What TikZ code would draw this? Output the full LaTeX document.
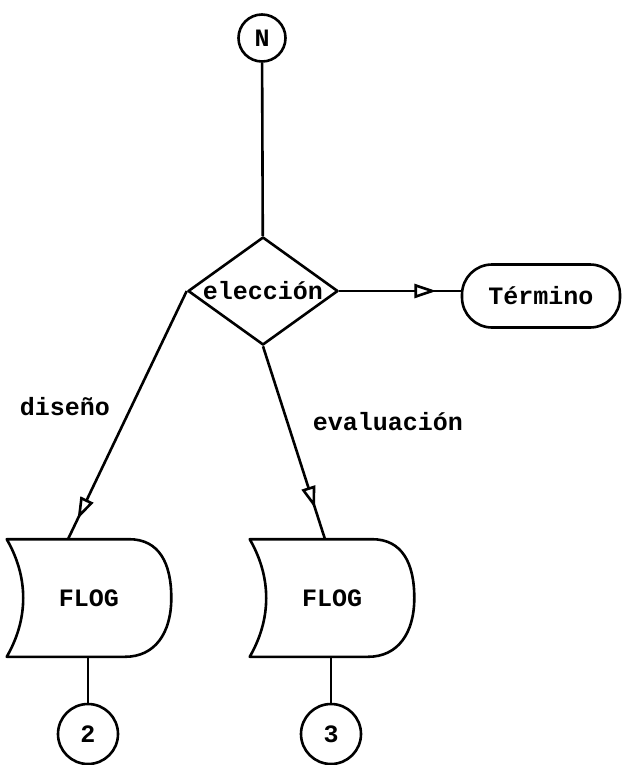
\documentclass[tikz,border=0pt]{standalone}
\usepackage{fontspec}
\newfontfamily\flowfont{Liberation Mono}
\usetikzlibrary{shapes.geometric,arrows.meta,decorations.markings}

\tikzstyle{conn} = [circle, draw, inner sep=0mm, minimum size=47pt]
\tikzstyle{decision} = [diamond, draw, inner sep=0mm, aspect=1.4, minimum width=150pt, minimum height=108pt]
\tikzstyle{term} = [rectangle, draw, rounded corners=30pt, minimum width=158pt, minimum height=63pt]
\tikzstyle{store} = [rectangle, inner sep=0mm, minimum width=162pt, minimum height=115pt]
\tikzset{flow/.style={postaction={decorate, decoration={markings,
	mark=at position #1 with {\arrow{Triangle[fill=white, length=22pt, width=14pt]}}}}}}

\begin{document}
\begin{tikzpicture}[x=1pt, y=-1pt, line width=2.6pt, line join=round,
		every node/.style={font=\flowfont\bfseries\fontsize{25}{27}\selectfont}]
		\useasboundingbox (0,0) rectangle (622,765);
		%\draw[help lines] (0,0) grid[step=50] (622,765);
		\node[conn] (N) at (262,38) {N};
		\node[decision] (elec) at (263,291) {elección};
		\node[term] (term) at (541,296) {Término};
		\node (dis) at (65,407) {diseño};
		\node (eval) at (388,422) {evaluación};
		\foreach \n/\x/\c in {1/89/2, 2/332/3} {
			\node[store] (flog\n) at (\x,598) {FLOG};
			\draw (flog\n.north west) -- ([xshift=40pt]flog\n.north)
				.. controls +(30,0) and +(0,-35) .. (flog\n.east)
				.. controls +(0,35) and +(30,0) .. ([xshift=36pt]flog\n.south)
				-- (flog\n.south west)
				.. controls +(22,-38) and +(22,38) .. (flog\n.north west) -- cycle;
			\node[conn, minimum size=60pt] (c\c) at (\x-1,734) {\c};
			\draw (c\c.north |- flog\n.south) -- (c\c.north);
		}
		\draw (N) -- (elec);
		\draw[flow=0.8] (elec.east) -- (term.west |- elec.east);
		\draw[flow=0.92] (elec.west) -- ([xshift=-21pt]flog1.north);
		\draw[flow=0.84] (elec.south) -- ([xshift=-7pt]flog2.north);
	\end{tikzpicture}
\end{document}
